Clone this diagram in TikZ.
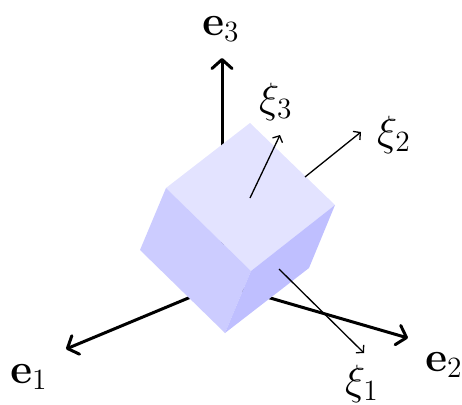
\documentclass[tikz,border=0pt]{standalone}
\usepackage{amsmath}
\usepackage{amssymb}
\usetikzlibrary{arrows.meta, positioning, calc}

\begin{document}
\begin{tikzpicture}[
    x=1pt, y=-1pt,
    axis/.style={-{Straight Barb[length=9pt,width=20pt,round]}, line width=3pt},
    vec/.style={-{Straight Barb[length=5pt,width=11pt]}, line width=1.3pt},
    lab/.style={inner sep=0pt, font=\LARGE, scale=2.45},
]
    \useasboundingbox (0,0) rectangle (462,404);

    % Corners
    \coordinate (o) at (222,284);
    \coordinate (a) at (250,123);
    \coordinate (b) at (335,205);
    \coordinate (c) at (251,271);
    \coordinate (d) at (166,188);
    \coordinate (e) at (140,250);
    \coordinate (f) at (225,333);
    \coordinate (g) at (309,268);

    % Axes
    \coordinate (top) at (222,58);
    \coordinate (left) at (66,349);
    \coordinate (right) at (408,338);
    \draw[axis] (o) -- (top);
    \draw[axis] (o) -- (left);
    \draw[axis] (o) -- (right);

    % Faces
    \fill[blue!11] (a) -- (b) -- (c) -- (d) -- cycle;
    \fill[blue!20] (d) -- (c) -- (f) -- (e) -- cycle;
    \fill[blue!25] (c) -- (b) -- (g) -- (f) -- cycle;

    % Frame
    \coordinate (m3) at (250,198);
    \coordinate (t3) at (280,135);
    \coordinate (m2) at (305,177);
    \coordinate (t2) at (361,132);
    \coordinate (m1) at (279,269);
    \coordinate (t1) at (364,353);
    \draw[vec] (m3) -- (t3);
    \draw[vec] (m2) -- (t2);
    \draw[vec] (m1) -- (t1);

    % Labels
    \node[lab] (e3) at (221,29) {$\mathbf{e}_3$};
    \node[lab] (e1) at (29,377) {$\mathbf{e}_1$};
    \node[lab] (e2) at (444,365) {$\mathbf{e}_2$};
    \node[lab] (xi3) at (276,102) {$\xi_3$};
    \node[lab] (xi2) at (394,135) {$\xi_2$};
    \node[lab] (xi1) at (362,384) {$\xi_1$};
\end{tikzpicture}
\end{document}
